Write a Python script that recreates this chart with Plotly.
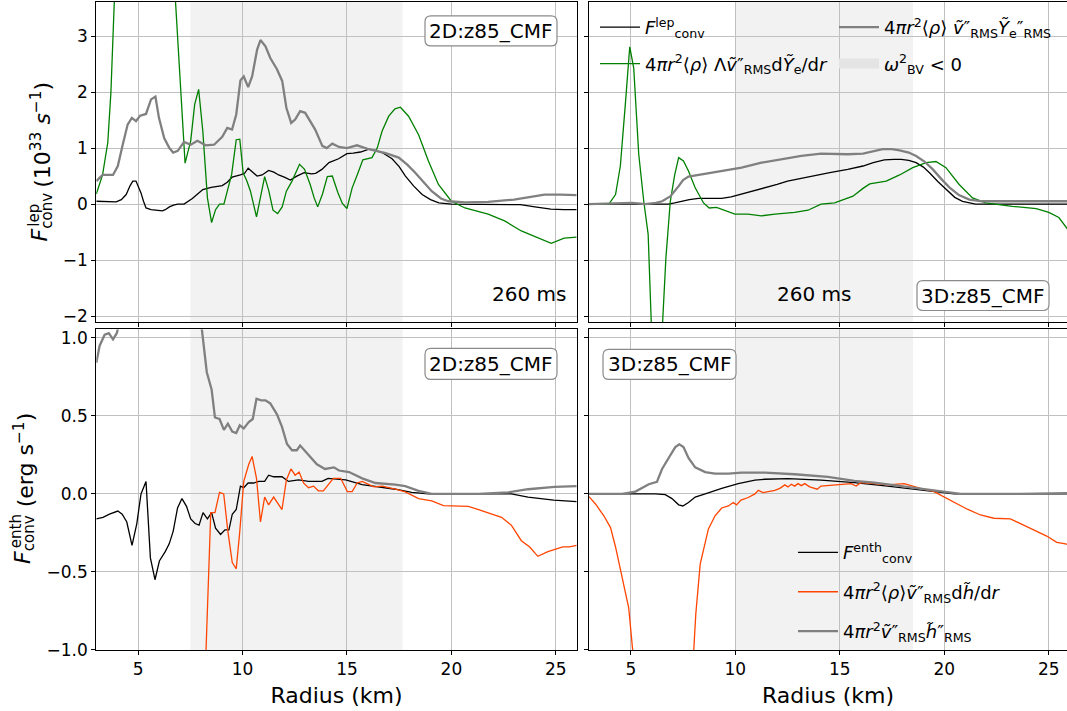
import plotly.graph_objects as go

W, H = 1067, 711
VS = 721.0 / 711.0   # vertical compensation measured from previous renders
def PX(x): return x / W
def PY(y): return max(0.0, 1 - y * VS / H)

# ---------------- DATA ----------------
# Top-left: 2D lepton flux (10^33 s^-1)
lep2d_F_r = [3.0,3.5,3.95,4.2,4.43,4.62,4.75,4.9,5.02,5.14,5.26,5.38,5.62,5.9,6.17,6.3,6.5,6.7,6.9,7.2,7.4,7.6,7.85,8.1,8.5,9.03,9.27,9.5,9.9,10.1,10.27,10.5,10.7,10.94,11.25,11.5,11.73,12.0,12.29,12.6,12.95,13.3,13.5,13.8,14.14,14.6,15.0,15.3,15.65,16.05,16.35,16.68,17.16,17.5,17.8,18.2,18.6,19.0,19.4,20.0,21.0,21.76,22.5,23.3,24.0,24.76,25.4,26.0]
lep2d_F_v = [0.05,0.04,0.04,0.08,0.17,0.33,0.41,0.41,0.32,0.2,0.05,-0.07,-0.1,-0.11,-0.12,-0.1,-0.05,-0.02,0.0,0.0,0.05,0.1,0.18,0.26,0.3,0.33,0.39,0.48,0.52,0.55,0.64,0.56,0.5,0.52,0.6,0.57,0.52,0.48,0.43,0.5,0.56,0.54,0.55,0.62,0.74,0.81,0.9,0.91,0.93,0.98,0.96,0.92,0.81,0.67,0.5,0.32,0.17,0.08,0.02,0.0,0.0,0.0,-0.005,-0.01,-0.05,-0.09,-0.1,-0.1]

lep2d_G_r = [3.0,3.3,3.55,3.7,3.95,4.3,5.0,5.8,6.3,6.7,7.25,7.52,7.71,7.9,8.1,8.32,8.52,8.71,8.9,9.11,9.48,9.7,9.87,10.03,10.2,10.38,10.67,10.86,11.06,11.25,11.46,11.68,11.9,12.1,12.37,12.73,12.97,13.24,13.43,13.6,13.83,14.06,14.3,14.56,14.78,15.0,15.25,15.5,15.76,16.2,16.45,16.68,17.0,17.3,17.56,17.95,18.43,18.9,19.38,20.0,20.65,21.76,22.55,23.35,24.14,24.78,25.4,26.0]
lep2d_G_v = [0.18,0.52,1.1,2.0,4.5,6.5,7.5,7.0,5.5,4.2,0.73,1.13,1.78,2.05,1.3,0.11,-0.33,-0.1,0.0,0.0,0.53,1.15,1.16,0.56,0.42,0.23,-0.23,0.11,0.49,0.25,-0.11,-0.17,-0.05,0.23,0.41,0.71,0.62,0.35,0.11,-0.05,0.18,0.49,0.5,0.21,0.01,-0.08,0.29,0.53,0.79,0.83,1.0,1.3,1.57,1.7,1.73,1.57,1.24,0.77,0.35,0.05,-0.07,-0.18,-0.3,-0.48,-0.6,-0.7,-0.61,-0.59]

lep2d_Y_r = [3.0,3.3,3.8,4.03,4.27,4.5,4.7,4.9,5.1,5.38,5.62,5.83,6.0,6.25,6.5,6.68,6.9,7.2,7.52,7.84,8.24,8.64,9.03,9.27,9.5,9.7,9.9,10.06,10.27,10.46,10.7,10.86,11.1,11.33,11.65,11.9,12.1,12.33,12.52,12.76,13.0,13.2,13.48,13.82,14.03,14.3,14.62,15.0,15.48,16.05,16.85,17.48,17.9,18.27,18.7,19.06,19.5,19.86,20.65,21.76,23.0,23.7,24.46,25.2,26.0]
lep2d_Y_v = [0.41,0.52,0.52,0.68,1.07,1.42,1.54,1.48,1.58,1.61,1.87,1.92,1.54,1.18,1.0,0.92,0.95,1.11,1.06,1.13,1.05,1.06,1.2,1.36,1.33,1.6,2.21,2.28,2.09,2.28,2.76,2.93,2.82,2.61,2.41,2.2,1.72,1.45,1.51,1.66,1.63,1.5,1.33,1.04,1.0,1.08,1.02,1.0,1.05,0.98,0.91,0.83,0.7,0.56,0.38,0.23,0.1,0.05,0.03,0.04,0.08,0.12,0.17,0.17,0.16]

# Top-right: 3D lepton flux
lep3d_F_r = [3.0,5.0,6.17,6.8,7.1,7.44,7.8,8.24,9.35,9.8,10.3,10.85,11.4,12.0,12.5,13.0,13.5,14.0,14.52,15.38,16.11,16.6,17.13,17.6,17.94,18.3,18.65,19.0,19.29,19.7,20.08,20.5,20.87,21.5,23.0,26.0]
lep3d_F_v = [0.0,0.0,0.0,0.0,0.02,0.05,0.08,0.1,0.1,0.13,0.18,0.23,0.29,0.35,0.41,0.45,0.48,0.53,0.56,0.62,0.68,0.74,0.79,0.8,0.8,0.78,0.74,0.66,0.56,0.4,0.26,0.12,0.05,0.0,0.0,0.0]

lep3d_G_r = [3.0,3.95,4.27,4.5,4.75,4.95,5.14,5.38,5.62,5.83,6.05,6.2,6.4,6.68,6.89,7.1,7.29,7.52,7.76,8.08,8.48,8.75,9.1,9.5,9.98,10.6,11.25,11.9,12.84,13.48,14.1,14.75,15.16,15.63,16.11,16.43,17.22,17.86,18.49,19.13,19.6,20.08,20.71,21.35,21.98,23.25,24.4,25.0,25.48,25.8,26.0]
lep3d_G_v = [0.0,0.0,0.17,0.68,1.84,2.81,2.43,0.89,0.05,-0.54,-2.86,-3.4,-3.0,-0.96,0.05,0.52,0.83,0.77,0.59,0.29,0.02,-0.07,-0.06,-0.11,-0.18,-0.18,-0.21,-0.18,-0.15,-0.11,0.0,0.02,0.08,0.14,0.28,0.36,0.41,0.52,0.65,0.74,0.76,0.65,0.35,0.11,0.02,-0.04,-0.08,-0.15,-0.24,-0.4,-0.5]

lep3d_Y_r = [3.0,4.5,5.06,5.7,6.2,6.5,6.9,7.29,7.5,7.76,8.4,9.35,10.3,11.25,12.2,13.16,14.1,15.38,16.11,16.6,17.05,17.5,17.86,18.3,18.65,19.05,19.45,19.85,20.24,20.7,21.2,21.8,26.0]
lep3d_Y_v = [0.0,0.01,0.02,0.0,0.02,0.05,0.14,0.32,0.43,0.49,0.53,0.59,0.65,0.74,0.8,0.86,0.9,0.89,0.9,0.94,0.98,0.98,0.96,0.92,0.86,0.76,0.62,0.45,0.3,0.16,0.08,0.05,0.05]

# Bottom-left: 2D enthalpy flux
enth2d_F_r = [3.0,3.32,3.63,4.03,4.24,4.46,4.71,4.94,5.14,5.38,5.59,5.81,6.02,6.3,6.49,6.68,6.89,7.1,7.32,7.52,7.73,7.92,8.11,8.32,8.52,8.71,8.95,9.16,9.35,9.51,9.7,9.9,10.06,10.27,10.54,10.78,11.06,11.25,11.49,11.89,12.2,12.68,13.16,13.8,14.1,14.94,15.73,16.52,17.32,18.1,18.9,22.87,23.67,24.9,26.0]
enth2d_F_v = [-0.16,-0.15,-0.13,-0.11,-0.13,-0.18,-0.33,-0.19,0.0,0.08,-0.41,-0.55,-0.43,-0.37,-0.32,-0.24,-0.09,-0.03,-0.08,-0.16,-0.19,-0.2,-0.12,-0.16,-0.12,-0.22,-0.26,-0.23,-0.23,-0.13,-0.1,0.05,0.04,0.07,0.07,0.08,0.08,0.12,0.11,0.11,0.08,0.09,0.08,0.08,0.1,0.09,0.06,0.045,0.03,0.01,0.0,0.0,-0.02,-0.04,-0.05]

enth2d_G_r = [8.1,8.48,8.68,8.9,9.1,9.3,9.51,9.7,9.87,10.06,10.3,10.46,10.67,10.86,11.06,11.25,11.49,11.68,11.89,12.1,12.32,12.52,12.71,12.92,13.16,13.4,13.63,13.87,14.11,14.35,14.59,14.7,15.02,15.25,15.49,15.73,16.29,16.68,17.32,17.79,18.43,19.06,19.62,20.81,21.3,21.92,22.4,22.87,23.35,23.75,24.14,24.62,25.33,25.65,26.0]
enth2d_G_v = [-1.6,-0.12,-0.12,0.01,0.0,-0.24,-0.44,-0.48,-0.24,0.08,0.19,0.24,0.1,-0.18,-0.02,-0.07,-0.02,-0.06,-0.1,0.09,0.16,0.12,0.14,0.07,0.04,0.05,0.02,0.02,0.06,0.1,0.1,0.1,0.015,0.015,0.07,0.08,0.045,0.05,0.03,0.013,-0.03,-0.045,-0.075,-0.08,-0.1,-0.13,-0.15,-0.2,-0.3,-0.34,-0.4,-0.37,-0.34,-0.34,-0.33]

enth2d_H_r = [3.0,3.16,3.4,3.6,3.8,3.98,4.3,5.0,6.0,7.0,7.8,8.29,8.52,8.68,8.9,9.11,9.3,9.51,9.7,9.87,10.06,10.3,10.49,10.67,10.89,11.1,11.33,11.65,11.89,12.13,12.37,12.6,12.76,13.16,13.56,13.95,14.38,14.62,15.1,15.73,16.37,17.32,17.79,18.43,19.06,21.3,22.71,23.67,24.94,26.0]
enth2d_H_v = [0.84,0.95,1.02,1.03,0.99,1.03,1.2,1.5,1.8,1.7,1.35,0.78,0.67,0.49,0.48,0.41,0.45,0.4,0.39,0.44,0.42,0.46,0.48,0.61,0.6,0.6,0.58,0.51,0.43,0.32,0.28,0.28,0.31,0.25,0.19,0.16,0.17,0.15,0.14,0.1,0.07,0.06,0.05,0.02,0.0,0.0,0.01,0.03,0.045,0.05]

# Bottom-right: 3D enthalpy flux
enth3d_F_r = [3.0,6.17,6.65,6.97,7.29,7.49,7.76,8.08,8.56,9.35,10.14,10.94,11.41,12.52,14.1,15.7,17.29,18.56,19.67,20.46,26.0]
enth3d_F_v = [0.0,0.0,-0.005,-0.03,-0.07,-0.077,-0.055,-0.02,0.0,0.036,0.066,0.088,0.094,0.098,0.088,0.073,0.05,0.03,0.01,0.0,0.0]

enth3d_G_r = [3.0,3.32,3.71,4.03,4.27,4.59,4.9,5.3,6.0,7.0,7.8,8.11,8.32,8.71,9.03,9.35,9.67,9.9,10.06,10.27,10.62,10.94,11.1,11.33,11.65,11.89,12.13,12.37,12.52,12.68,12.84,13.0,13.16,13.32,13.56,13.92,14.1,15.06,15.54,15.78,16.02,16.65,17.29,18.08,18.48,18.87,19.51,19.9,20.46,21.1,21.73,22.37,23.16,23.63,24.27,24.9,25.38,25.8,26.0]
enth3d_G_v = [-0.017,-0.066,-0.14,-0.216,-0.34,-0.536,-0.73,-1.3,-2.2,-2.4,-1.5,-0.77,-0.45,-0.226,-0.14,-0.09,-0.077,-0.055,-0.07,-0.04,-0.023,0.0,0.023,0.009,0.015,0.023,0.036,0.058,0.045,0.062,0.05,0.066,0.053,0.066,0.045,0.03,0.05,0.058,0.066,0.05,0.073,0.066,0.058,0.066,0.05,0.036,0.015,-0.013,-0.055,-0.098,-0.135,-0.156,-0.16,-0.19,-0.226,-0.27,-0.31,-0.32,-0.33]

enth3d_H_r = [3.0,4.59,5.22,5.54,5.86,6.25,6.49,6.81,7.13,7.32,7.52,7.76,8.08,8.56,9.03,9.67,10.3,11.41,12.84,14.43,15.7,16.65,17.92,18.87,19.83,20.78,23.63,26.0]
enth3d_H_v = [0.0,0.0,0.015,0.036,0.062,0.077,0.158,0.23,0.3,0.318,0.3,0.23,0.17,0.14,0.13,0.13,0.137,0.137,0.126,0.109,0.083,0.073,0.05,0.034,0.015,0.0,0.0,0.006]

shade_2d = [7.5, 17.66]
shade_3d = [10.0, 18.5]

# ---------------- STYLE ----------------
FONT = "DejaVu Sans"
BLACK, GREEN, GRAY, ORANGE = "#000000", "#008000", "#808080", "#FF4500"
SHADE = "#f2f2f2"

lbl_Flep = "<i>F</i><sup>lep</sup><sub>conv</sub>"
lbl_Glep = "4<i>πr</i><sup>2</sup>⟨<i>ρ</i>⟩ Λ<i>ṽ</i>″<sub>RMS</sub>d<i>Ỹ</i><sub>e</sub>/d<i>r</i>"
lbl_Ylep = "4<i>πr</i><sup>2</sup>⟨<i>ρ</i>⟩ <i>ṽ</i>″<sub>RMS</sub><i>Ỹ</i><sub>e</sub>″<sub>RMS</sub>"
lbl_BV = "<i>ω</i><sup>2</sup><sub>BV</sub> &lt; 0"
lbl_Fenth = "<i>F</i><sup>enth</sup><sub>conv</sub>"
lbl_Genth = "4<i>πr</i><sup>2</sup>⟨<i>ρ</i>⟩<i>ṽ</i>″<sub>RMS</sub>d<i>h̃</i>/d<i>r</i>"
lbl_Henth = "4<i>πr</i><sup>2</sup><i>ṽ</i>″<sub>RMS</sub><i>h̃</i>″<sub>RMS</sub>"

fig = go.Figure()

def add(xs, ys, color, width, ax, name, legend=None, rank=None):
    fig.add_trace(go.Scatter(
        x=xs, y=ys, mode="lines", line=dict(color=color, width=width),
        xaxis="x" + ax, yaxis="y" + ax, name=name,
        showlegend=legend is not None, legend=legend or "legend",
        legendgroup="g%d" % len(fig.data),
        legendrank=rank if rank else 1000, hoverinfo="skip"))

# top-left
add(lep2d_F_r, lep2d_F_v, BLACK, 1.3, "", lbl_Flep)
add(lep2d_G_r, lep2d_G_v, GREEN, 1.3, "", lbl_Glep)
add(lep2d_Y_r, lep2d_Y_v, GRAY, 2.3, "", lbl_Ylep)
# top-right
add(lep3d_F_r, lep3d_F_v, BLACK, 1.3, "2", lbl_Flep, "legend", 1)
add(lep3d_G_r, lep3d_G_v, GREEN, 1.3, "2", lbl_Glep, "legend", 2)
add(lep3d_Y_r, lep3d_Y_v, GRAY, 2.3, "2", lbl_Ylep, "legend3", 1)
fig.add_trace(go.Scatter(x=[None], y=[None], mode="lines",
                         line=dict(color="#e4e4e4", width=12), xaxis="x2", yaxis="y2",
                         name=lbl_BV, legend="legend3", legendrank=2, legendgroup="shade",
                         showlegend=True))
# bottom-left
add(enth2d_F_r, enth2d_F_v, BLACK, 1.3, "3", lbl_Fenth)
add(enth2d_G_r, enth2d_G_v, ORANGE, 1.3, "3", lbl_Genth)
add(enth2d_H_r, enth2d_H_v, GRAY, 2.3, "3", lbl_Henth)
# bottom-right
add(enth3d_F_r, enth3d_F_v, BLACK, 1.3, "4", lbl_Fenth, "legend2", 1)
add(enth3d_G_r, enth3d_G_v, ORANGE, 1.3, "4", lbl_Genth, "legend2", 2)
add(enth3d_H_r, enth3d_H_v, GRAY, 2.3, "4", lbl_Henth, "legend2", 3)

# ---------------- AXES ----------------
common = dict(showline=True, linecolor="black", linewidth=1.2, ticks="outside", ticklen=4,
              tickwidth=1, tickcolor="black", showgrid=True, gridcolor="#c0c0c0", gridwidth=1.3,
              zeroline=False, tickfont=dict(family=FONT, size=17, color="black"))

xl = [PX(96.3), PX(576.7)]
xr = [PX(589), 1.0]
yt = [PY(321.7), PY(1)]
yb = [PY(650), PY(329)]

xtitle = dict(text="Radius (km)", font=dict(family=FONT, size=22, color="black"), standoff=9)

fig.update_layout(
    xaxis=dict(common, domain=xl, anchor="y", range=[3, 26], tick0=0, dtick=5, mirror=True, showticklabels=False),
    yaxis=dict(common, domain=yt, anchor="x", range=[-2.11, 3.61], tick0=0, dtick=1, mirror=True),
    xaxis2=dict(common, domain=xr, anchor="y2", range=[3, 25.87], tick0=0, dtick=5, mirror=True, showticklabels=False),
    yaxis2=dict(common, domain=yt, anchor="x2", range=[-2.11, 3.61], tick0=0, dtick=1, mirror=False, showticklabels=False),
    xaxis3=dict(common, domain=xl, anchor="y3", range=[3, 26], tick0=0, dtick=5, mirror=True, title=xtitle),
    yaxis3=dict(common, domain=yb, anchor="x3", range=[-1.0, 1.054], tick0=0, dtick=0.5, tickformat=".1f", mirror=True),
    xaxis4=dict(common, domain=xr, anchor="y4", range=[3, 25.87], tick0=0, dtick=5, mirror=True, title=xtitle),
    yaxis4=dict(common, domain=yb, anchor="x4", range=[-1.0, 1.054], tick0=0, dtick=0.5, mirror=False, showticklabels=False),
)

# shading (omega_BV^2 < 0)
for ax, (a, b) in [("", shade_2d), ("2", shade_3d), ("3", shade_2d), ("4", shade_3d)]:
    fig.add_shape(type="rect", xref="x" + ax, yref=("y" + ax) + " domain", x0=a, x1=b, y0=0, y1=1,
                  fillcolor=SHADE, line_width=0, layer="below")

# ---------------- ANNOTATIONS ----------------
def text(t, x, y, size=20, **kw):
    kw.setdefault("xanchor", "center")
    kw.setdefault("yanchor", "middle")
    fig.add_annotation(text=t, x=PX(x), y=PY(y), xref="paper", yref="paper", showarrow=False,
                       font=dict(family=FONT, size=size, color="black"), **kw)

def rbox(x0, y0, x1, y1, r=6):
    X = lambda v: "%.5f" % PX(v)
    Y = lambda v: "%.5f" % PY(v)
    p = ("M{a},{b} L{c},{b} Q{d},{b} {d},{e} L{d},{f} Q{d},{g} {c},{g} L{a},{g} Q{h},{g} {h},{f} "
         "L{h},{e} Q{h},{b} {a},{b} Z").format(a=X(x0 + r), b=Y(y0), c=X(x1 - r), d=X(x1), e=Y(y0 + r),
                                               f=Y(y1 - r), g=Y(y1), h=X(x0))
    fig.add_shape(type="path", xref="paper", yref="paper", path=p, fillcolor="white",
                  line=dict(color="#8a8a8a", width=1.2), layer="above")

rbox(425, 15, 557, 45); text("2D:z85_CMF", 491, 30)
text("260 ms", 529, 293)
text("260 ms", 814, 293)
rbox(917, 280, 1049, 310); text("3D:z85_CMF", 983, 295)
rbox(425, 348, 557, 379); text("2D:z85_CMF", 491, 363.5)
rbox(603, 349, 736, 379); text("3D:z85_CMF", 669.5, 364)

# y-axis labels (rotated, built from pieces, centre-anchored)
rot = dict(textangle=-90)
text("<i>F</i>", 40, 235, size=22, **rot)
text("lep", 34, 215, size=15, **rot)
text("conv", 47, 210, size=15, **rot)
text("(10<sup>33</sup> <i>s</i><sup>−1</sup>)", 41, 134, size=22, **rot)

text("<i>F</i>", 22, 558, size=22, **rot)
text("enth", 16, 531, size=15, **rot)
text("conv", 29, 533, size=15, **rot)
text("(erg s<sup>−1</sup>)", 24, 460, size=22, **rot)

# ---------------- LEGENDS & LAYOUT ----------------
leg = dict(bgcolor="rgba(0,0,0,0)", borderwidth=0, font=dict(family=FONT, size=18, color="black"),
           xanchor="left", yanchor="top", itemwidth=40, tracegroupgap=10)
fig.update_layout(
    width=W, height=H, margin=dict(l=0, r=0, t=0, b=0),
    paper_bgcolor="white", plot_bgcolor="white",
    font=dict(family=FONT, color="black"),
    legend=dict(leg, x=PX(595), y=PY(8)),
    legend3=dict(leg, x=PX(834), y=PY(8)),
    legend2=dict(leg, x=PX(793), y=PY(534), tracegroupgap=13),
    hovermode=False,
)

fig.write_html("out.html")
